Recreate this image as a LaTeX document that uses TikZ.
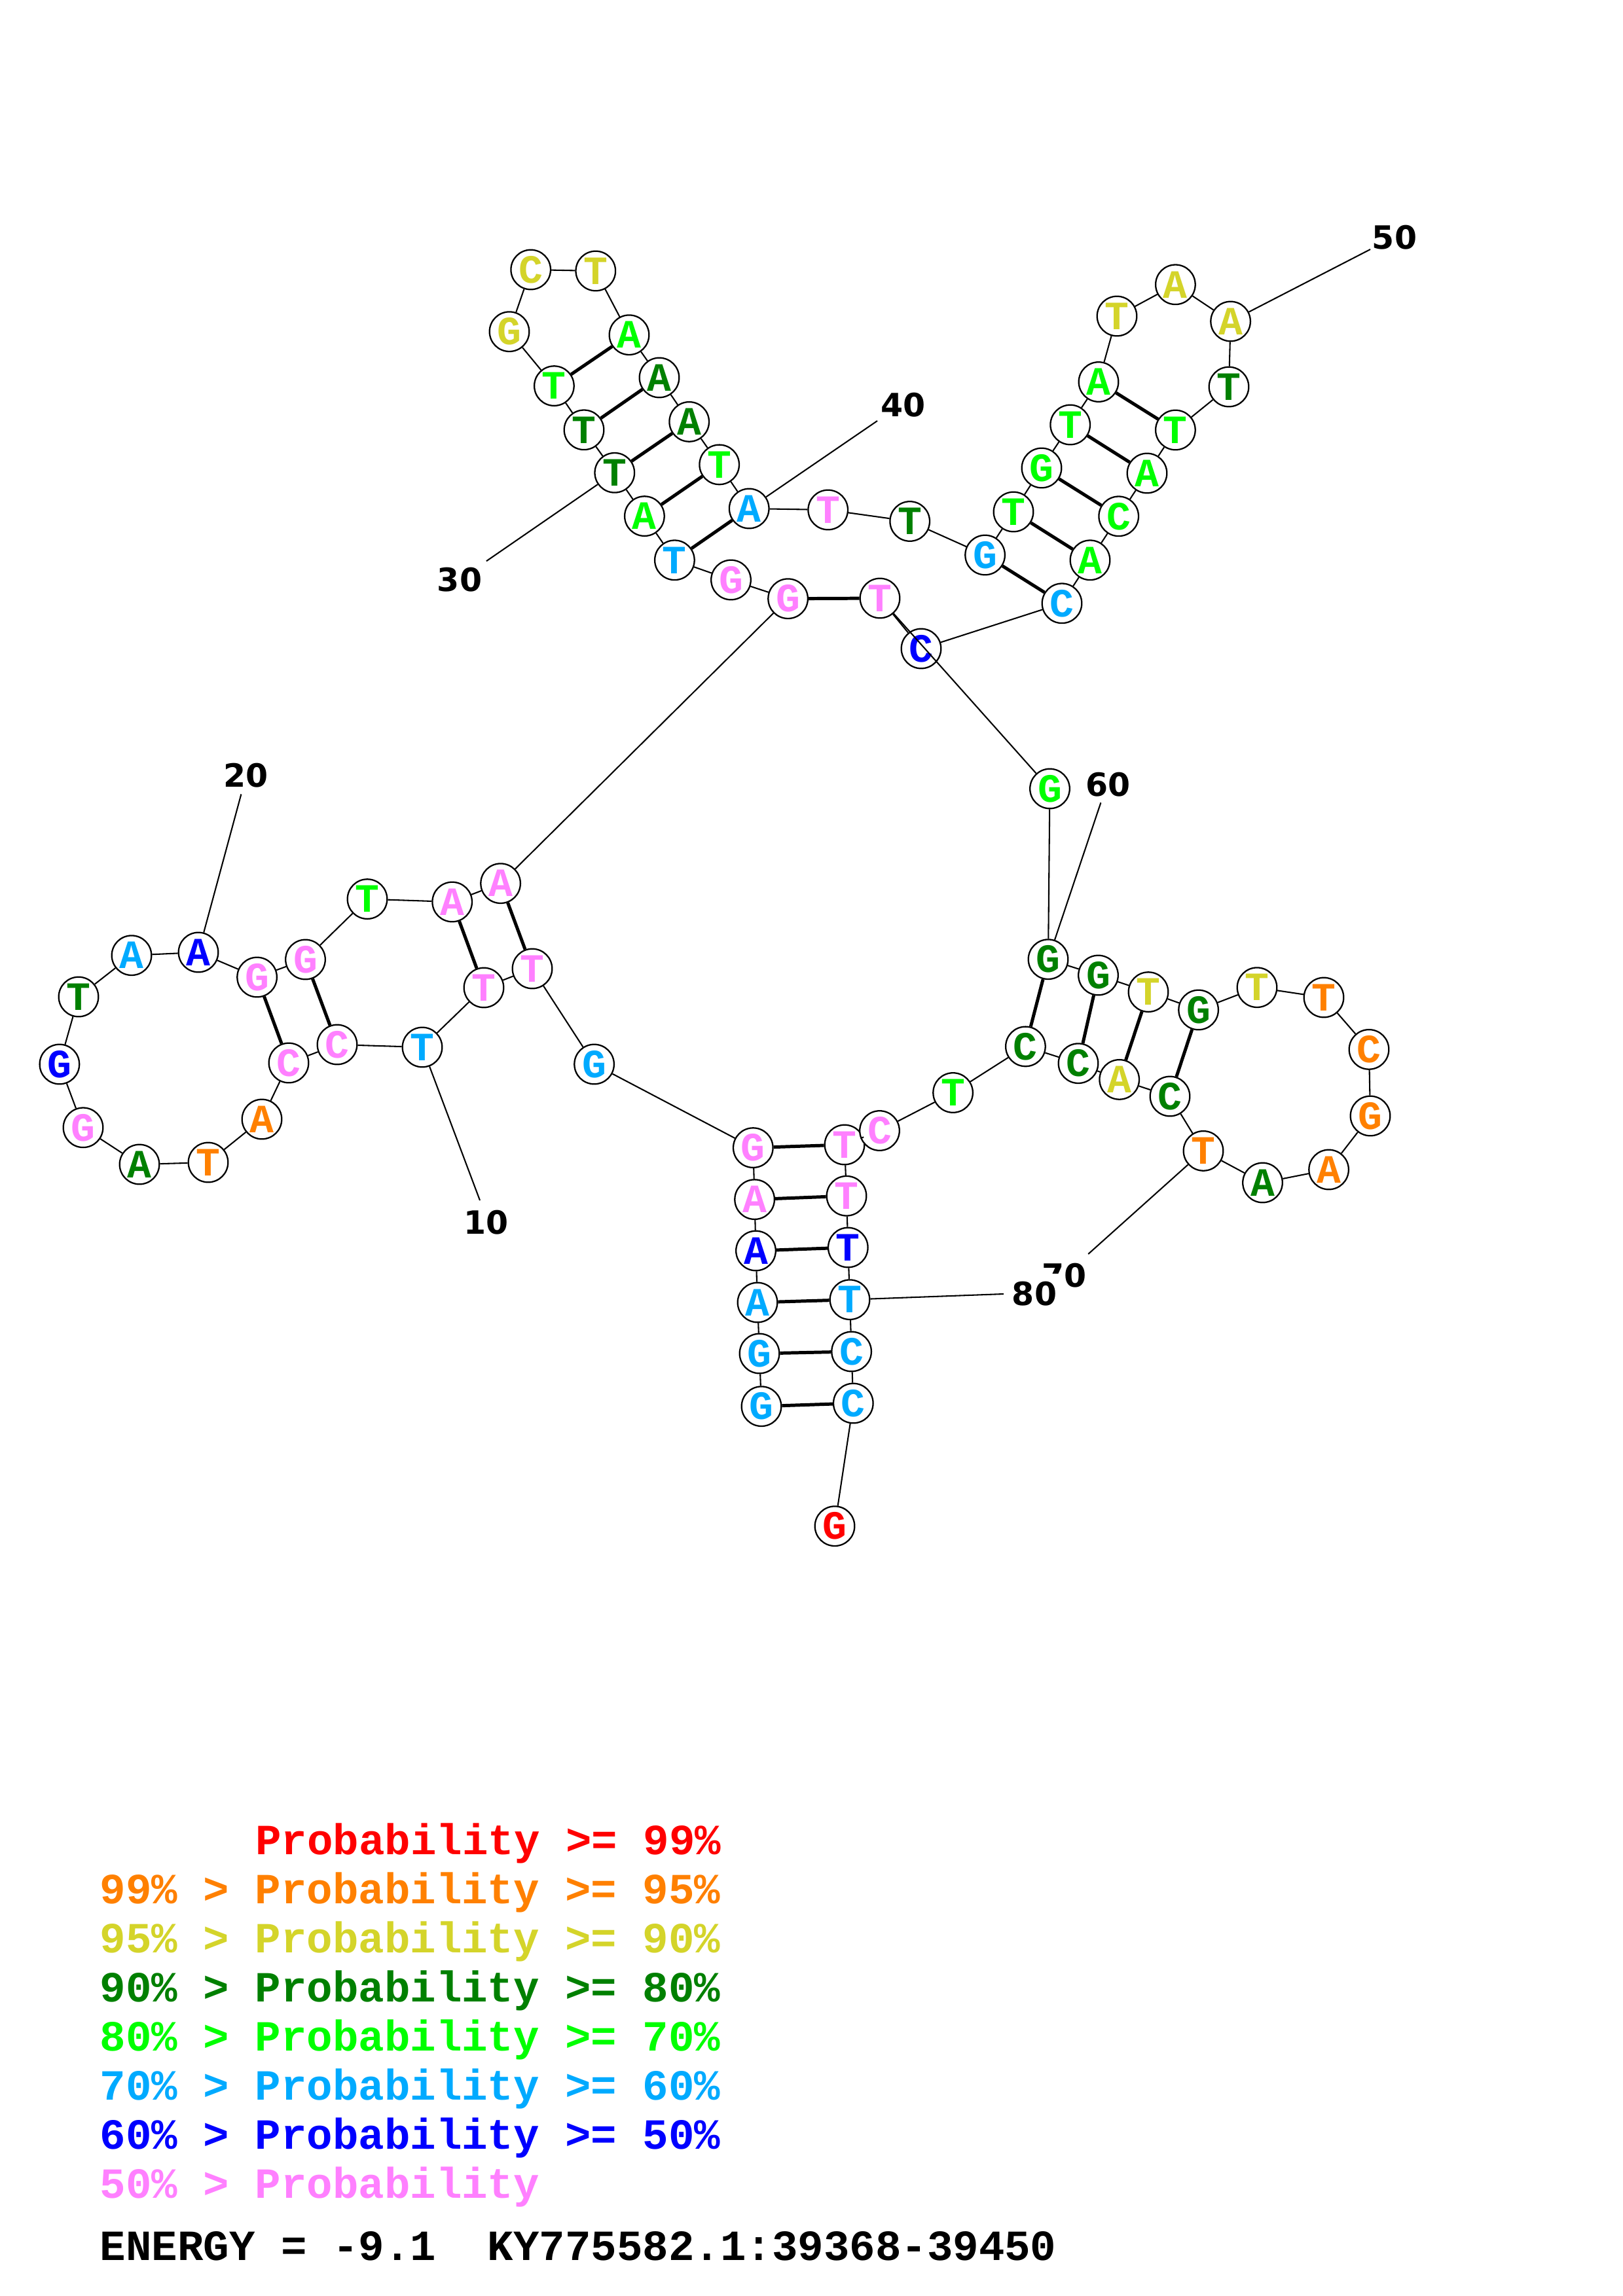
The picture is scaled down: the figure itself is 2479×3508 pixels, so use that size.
\documentclass[tikz,border=0pt]{standalone}
\usepackage{fontspec}
\newfontfamily\cour{Liberation Mono}
\newfontfamily\numf{DejaVu Sans}
\definecolor{cRed}{RGB}{255,0,0}
\definecolor{cOrange}{RGB}{255,128,0}
\definecolor{cYellow}{RGB}{212,212,42}
\definecolor{cDkGreen}{RGB}{0,128,0}
\definecolor{cGreen}{RGB}{0,255,0}
\definecolor{cLtBlue}{RGB}{0,170,255}
\definecolor{cBlue}{RGB}{0,0,255}
\definecolor{cPink}{RGB}{255,128,255}
\tikzset{
  nt/.style={circle, draw=black, line width=0.55pt, fill=white, inner sep=0pt, minimum size=5.13mm,
    font=\cour\bfseries\fontsize{14.8}{14.8}\selectfont},
  bb/.style={line width=0.5pt, draw=black},
  pr/.style={line width=1.2pt, draw=black},
  lbl/.style={inner sep=1pt, font=\numf\bfseries\fontsize{11.8}{11.8}\selectfont},
  leg/.style={anchor=base west, inner sep=0pt, font=\cour\bfseries\fontsize{15.85}{15.85}\selectfont}
}
\begin{document}
\begin{tikzpicture}[x=0.084667mm, y=-0.084667mm]
\path[use as bounding box, fill=white] (0,0) rectangle (2479,3508);
% nucleotides
\node[nt, text=cLtBlue] (n1) at (1163,2148.7) {G};
\node[nt, text=cLtBlue] (n2) at (1160,2068) {G};
\node[nt, text=cLtBlue] (n3) at (1157,1990) {A};
\node[nt, text=cBlue] (n4) at (1154.5,1911) {A};
\node[nt, text=cPink] (n5) at (1152.6,1832.6) {A};
\node[nt, text=cPink] (n6) at (1150.3,1753.6) {G};
\node[nt, text=cLtBlue] (n7) at (907.6,1626) {G};
\node[nt, text=cPink] (n8) at (813,1480) {T};
\node[nt, text=cPink] (n9) at (739,1509) {T};
\node[nt, text=cLtBlue] (n10) at (645,1600) {T};
\node[nt, text=cPink] (n11) at (515,1596) {C};
\node[nt, text=cPink] (n12) at (441,1624) {C};
\node[nt, text=cOrange] (n13) at (400,1710) {A};
\node[nt, text=cOrange] (n14) at (318,1776) {T};
\node[nt, text=cDkGreen] (n15) at (213,1779) {A};
\node[nt, text=cPink] (n16) at (127,1722.8) {G};
\node[nt, text=cBlue] (n17) at (90.9,1626) {G};
\node[nt, text=cDkGreen] (n18) at (120,1523) {T};
\node[nt, text=cLtBlue] (n19) at (201,1459.7) {A};
\node[nt, text=cBlue] (n20) at (303,1455) {A};
\node[nt, text=cPink] (n21) at (392.6,1493) {G};
\node[nt, text=cPink] (n22) at (466.5,1466) {G};
\node[nt, text=cGreen] (n23) at (561,1373.6) {T};
\node[nt, text=cPink] (n24) at (690.7,1378) {A};
\node[nt, text=cPink] (n25) at (764.6,1349.7) {A};
\node[nt, text=cPink] (n26) at (1203.6,914.7) {G};
\node[nt, text=cPink] (n27) at (1116.5,886) {G};
\node[nt, text=cLtBlue] (n28) at (1030.4,855.8) {T};
\node[nt, text=cGreen] (n29) at (984.4,788.6) {A};
\node[nt, text=cDkGreen] (n30) at (938.8,722.3) {T};
\node[nt, text=cDkGreen] (n31) at (892,656.8) {T};
\node[nt, text=cGreen] (n32) at (846.4,589.6) {T};
\node[nt, text=cYellow] (n33) at (778,506.7) {G};
\node[nt, text=cYellow] (n34) at (810.7,412) {C};
\node[nt, text=cYellow] (n35) at (909.8,414) {T};
\node[nt, text=cGreen] (n36) at (961,511.7) {A};
\node[nt, text=cDkGreen] (n37) at (1007,577) {A};
\node[nt, text=cDkGreen] (n38) at (1052.7,644.4) {A};
\node[nt, text=cGreen] (n39) at (1098.7,709.9) {T};
\node[nt, text=cLtBlue] (n40) at (1144.2,777) {A};
\node[nt, text=cPink] (n41) at (1264.7,779) {T};
\node[nt, text=cDkGreen] (n42) at (1389.7,796.5) {T};
\node[nt, text=cLtBlue] (n43) at (1504.6,848) {G};
\node[nt, text=cGreen] (n44) at (1548,782) {T};
\node[nt, text=cGreen] (n45) at (1591,715) {G};
\node[nt, text=cGreen] (n46) at (1634.7,649) {T};
\node[nt, text=cGreen] (n47) at (1678,583.5) {A};
\node[nt, text=cYellow] (n48) at (1706,483) {T};
\node[nt, text=cYellow] (n49) at (1795.4,434.8) {A};
\node[nt, text=cYellow] (n50) at (1879.6,491) {A};
\node[nt, text=cDkGreen] (n51) at (1877,591) {T};
\node[nt, text=cGreen] (n52) at (1795.4,657) {T};
\node[nt, text=cGreen] (n53) at (1752,723) {A};
\node[nt, text=cGreen] (n54) at (1708.7,788.8) {C};
\node[nt, text=cGreen] (n55) at (1665,855.8) {A};
\node[nt, text=cLtBlue] (n56) at (1622,921.8) {C};
\node[nt, text=cBlue] (n57) at (1407,991) {C};
\node[nt, text=cPink] (n58) at (1344,914) {T};
\node[nt, text=cGreen] (n59) at (1603.5,1205) {G};
\node[nt, text=cDkGreen] (n60) at (1601,1465.7) {G};
\node[nt, text=cDkGreen] (n61) at (1677.5,1490) {G};
\node[nt, text=cYellow] (n62) at (1754,1515.6) {T};
\node[nt, text=cDkGreen] (n63) at (1830.6,1543) {G};
\node[nt, text=cYellow] (n64) at (1920,1508.7) {T};
\node[nt, text=cOrange] (n65) at (2022,1524) {T};
\node[nt, text=cOrange] (n66) at (2091,1603.4) {C};
\node[nt, text=cOrange] (n67) at (2093,1705) {G};
\node[nt, text=cOrange] (n68) at (2029.6,1787) {A};
\node[nt, text=cDkGreen] (n69) at (1928.5,1807) {A};
\node[nt, text=cOrange] (n70) at (1838,1758.4) {T};
\node[nt, text=cDkGreen] (n71) at (1787,1675) {C};
\node[nt, text=cYellow] (n72) at (1709.7,1649.4) {A};
\node[nt, text=cDkGreen] (n73) at (1647,1624.7) {C};
\node[nt, text=cDkGreen] (n74) at (1566.4,1598.9) {C};
\node[nt, text=cGreen] (n75) at (1455.6,1669.5) {T};
\node[nt, text=cPink] (n77) at (1290,1749) {T};
\node[nt, text=cPink] (n76) at (1343.5,1727.5) {C};
\node[nt, text=cPink] (n78) at (1293,1827.2) {T};
\node[nt, text=cBlue] (n79) at (1295.3,1906) {T};
\node[nt, text=cLtBlue] (n80) at (1298,1985.7) {T};
\node[nt, text=cLtBlue] (n81) at (1300.6,2065) {C};
\node[nt, text=cLtBlue] (n82) at (1303.3,2144) {C};
\node[nt, text=cRed] (n83) at (1275,2331.7) {G};
% backbone
\foreach \i [evaluate=\i as \j using int(\i+1)] in {1,...,82}
  \draw[bb] (n\i) -- (n\j);
% base pairs
\foreach \i/\j in {1/82,2/81,3/80,4/79,5/78,6/77,21/12,22/11,24/9,25/8,26/58,
  28/40,29/39,30/38,31/37,32/36,43/56,44/55,45/54,46/53,47/52,60/74,61/73,62/72,63/71}
  \draw[pr] (n\i) -- (n\j);
% number labels
\coordinate (e10) at (733,1834);
\coordinate (e20) at (368.4,1213.4);
\coordinate (e30) at (742.9,857.3);
\coordinate (e40) at (1340,643);
\coordinate (e50) at (2093,381);
\coordinate (e60) at (1681.4,1226.3);
\coordinate (e70) at (1662.2,1916);
\coordinate (e80) at (1543.6,1976.6);
\foreach \k in {10,20,30,40,50,60,70,80}
  \draw[bb] (n\k) -- (e\k);
\node[lbl] (l10) at (742.8,1868) {10};
\node[lbl] (l20) at (375.7,1185) {20};
\node[lbl] (l30) at (702,886) {30};
\node[lbl] (l40) at (1379.5,618.5) {40};
\node[lbl] (l50) at (2130,362.5) {50};
\node[lbl] (l60) at (1692.8,1198.8) {60};
\node[lbl] (l70) at (1625.5,1949) {70};
\node[lbl, fill=white, inner sep=3pt] (l80) at (1580,1976.5) {80};
% legend
\node[leg, text=cRed] (g0) at (389.6,2833) {Probability >= 99\%};
\node[leg, text=cOrange] (g1) at (152,2908) {99\% > Probability >= 95\%};
\node[leg, text=cYellow] (g2) at (152,2983) {95\% > Probability >= 90\%};
\node[leg, text=cDkGreen] (g3) at (152,3058) {90\% > Probability >= 80\%};
\node[leg, text=cGreen] (g4) at (152,3133) {80\% > Probability >= 70\%};
\node[leg, text=cLtBlue] (g5) at (152,3208) {70\% > Probability >= 60\%};
\node[leg, text=cBlue] (g6) at (152,3283) {60\% > Probability >= 50\%};
\node[leg, text=cPink] (g7) at (152,3358) {50\% > Probability};
\node[leg, text=black] (g8) at (152,3453) {ENERGY = -9.1~~KY775582.1:39368-39450};
\end{tikzpicture}
\end{document}
